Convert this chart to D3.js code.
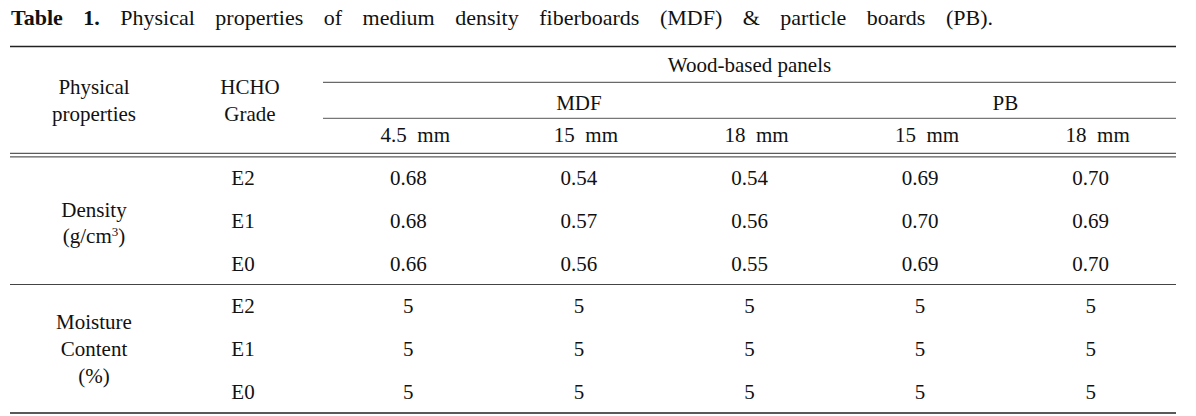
<!DOCTYPE html>
<html>
<head>
<meta charset="utf-8">
<script src="https://cdn.jsdelivr.net/npm/d3@7"></script>
<style>
	body { margin: 0; background: #fff; }
</style>
</head>
<body>
<svg id="table1"></svg>
<script>
const W = 1196;
const H = 416;

// table contents
const titleBold = "Table 1.";
const titleRest = "Physical properties of medium density fiberboards (MDF) & particle boards (PB).";
const panelGroup = "Wood-based panels";
const panels = ["MDF", "PB"];
const panelSpan = [3, 2];
const thickness = ["4.5  mm", "15  mm", "18  mm", "15  mm", "18  mm"];
const grades = ["E2", "E1", "E0"];
const densityValues = [
	[0.68, 0.54, 0.54, 0.69, 0.70],
	[0.68, 0.57, 0.56, 0.70, 0.69],
	[0.66, 0.56, 0.55, 0.69, 0.70]
];
const moistureValues = [
	[5, 5, 5, 5, 5],
	[5, 5, 5, 5, 5],
	[5, 5, 5, 5, 5]
];

const FONT = "'Liberation Serif', 'DejaVu Serif', serif";
const left = 10, right = 1176;
const colStart = 323;
const xProp = 94, xGrade = 250, xGradeVal = 243;
const rTop = 46.5, rGroup = 82.3, rPanel = 118.3, rHead = 153.3, rMid = 284.5, rBottom = 413;
const FS = 21;

let svg = d3.select("#table1")
	.attr("width", W)
	.attr("height", H)
	.attr("font-family", FONT)
	.style("font-family", FONT);

let xCol = d3.scaleBand().domain(d3.range(thickness.length)).range([colStart, right]);
let yDensity = d3.scaleBand().domain(grades).range([rHead + 3.5, rMid]);
let yMoisture = d3.scaleBand().domain(grades).range([rMid, rBottom]);

// title, justified to the same width as in the paper
let title = svg.append("text")
	.attr("x", 11)
	.attr("y", 25)
	.attr("fill", "#111")
	.style("font-family", FONT)
	.style("font-size", "22px");
title.append("tspan").style("font-weight", "bold").text(titleBold);
title.append("tspan").text(" " + titleRest);
let natural = title.node().getComputedTextLength();
let gaps = (titleBold + " " + titleRest).split(" ").length - 1;
title.style("word-spacing", Math.max(0, (993 - 11 - natural) / gaps) + "px");

// rules
function rule(x1, x2, y, w, c) {
	svg.append("line")
		.attr("x1", x1).attr("x2", x2).attr("y1", y).attr("y2", y)
		.attr("stroke", c).attr("stroke-width", w);
}
rule(left, right, rTop, 1.4, "#222");
rule(colStart, right, rGroup, 1, "#444");
rule(colStart, right, rPanel, 1, "#555");
rule(left, right, rHead, 1, "#333");
rule(left, right, rHead + 3.6, 1, "#333");
rule(left, right, rMid, 1.2, "#444");
rule(left, right, rBottom, 1.4, "#222");

function label(x, y, str) {
	let t = svg.append("text")
		.attr("x", x)
		.attr("y", y)
		.attr("dy", "0.35em")
		.attr("text-anchor", "middle")
		.attr("fill", "#111")
		.style("font-family", FONT)
		.style("font-size", FS + "px")
		.style("white-space", "pre");
	t.text(str);
	return t;
}

// header
label(xProp, (rTop + rHead) / 2 - 13.5, "Physical");
label(xProp, (rTop + rHead) / 2 + 13.5, "properties");
label(xGrade, (rTop + rHead) / 2 - 13.5, "HCHO");
label(xGrade, (rTop + rHead) / 2 + 13.5, "Grade");
label((colStart + right) / 2, (rTop + rGroup) / 2, panelGroup);

let spanStart = 0;
panels.forEach((p, i) => {
	let x0 = xCol(spanStart);
	let x1 = xCol(spanStart + panelSpan[i] - 1) + xCol.bandwidth();
	label((x0 + x1) / 2, (rGroup + rPanel) / 2 + 2, p);
	spanStart += panelSpan[i];
});

thickness.forEach((t, i) => {
	label(xCol(i) + xCol.bandwidth() / 2 + 7, (rPanel + rHead) / 2 - 1.5, t);
});

// density block
let dMid = (rHead + 3.5 + rMid) / 2;
label(xProp, dMid - 11, "Density");
let unit = label(xProp, dMid + 15, "(g/cm");
unit.append("tspan").attr("baseline-shift", "super").style("font-size", "13px").text("3");
unit.append("tspan").text(")");

grades.forEach((g, r) => {
	let yc = yDensity(g) + yDensity.bandwidth() / 2;
	label(xGradeVal, yc, g);
	densityValues[r].forEach((v, c) => {
		label(xCol(c) + xCol.bandwidth() / 2, yc, d3.format(".2f")(v));
	});
});

// moisture block
let mMid = (rMid + rBottom) / 2;
label(xProp, mMid - 27, "Moisture");
label(xProp, mMid, "Content");
label(xProp, mMid + 27, "(%)");

grades.forEach((g, r) => {
	let yc = yMoisture(g) + yMoisture.bandwidth() / 2;
	label(xGradeVal, yc, g);
	moistureValues[r].forEach((v, c) => {
		label(xCol(c) + xCol.bandwidth() / 2, yc, v);
	});
});
</script>
</body>
</html>
